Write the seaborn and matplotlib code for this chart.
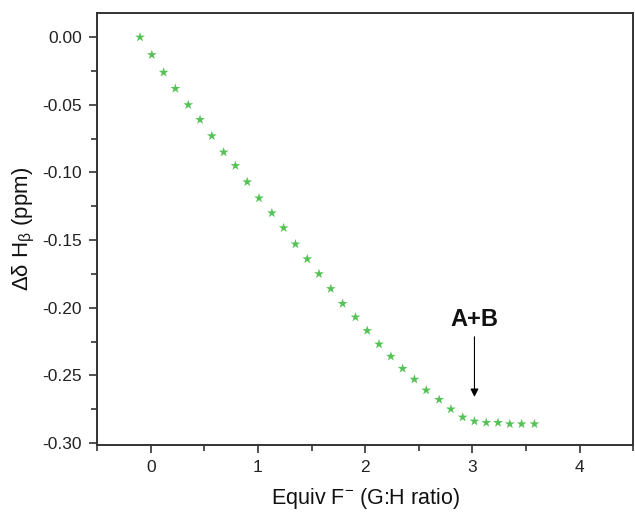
"""Fluoride titration: chemical shift change of H-beta vs equivalents."""

import matplotlib
matplotlib.use("Agg")
import matplotlib.pyplot as plt
import pandas as pd
import seaborn as sns
from matplotlib.ticker import MultipleLocator

equiv = [-0.10, 0.01, 0.12, 0.23, 0.35, 0.46, 0.57, 0.68, 0.79, 0.90,
         1.01, 1.13, 1.24, 1.35, 1.46, 1.57, 1.68, 1.79, 1.91, 2.02,
         2.13, 2.24, 2.35, 2.46, 2.57, 2.69, 2.80, 2.91, 3.02, 3.13,
         3.24, 3.35, 3.46, 3.58]
shift = [0.000, -0.013, -0.026, -0.038, -0.050, -0.061, -0.073, -0.085, -0.095, -0.107,
         -0.119, -0.130, -0.141, -0.153, -0.164, -0.175, -0.186, -0.197, -0.207, -0.217,
         -0.227, -0.236, -0.245, -0.253, -0.261, -0.268, -0.275, -0.281, -0.284, -0.285,
         -0.285, -0.286, -0.286, -0.286]

df = pd.DataFrame({"equiv": equiv, "shift": shift})

sns.set_style("ticks")
plt.rcParams["font.family"] = ["Liberation Sans", "DejaVu Sans"]
plt.rcParams["mathtext.fontset"] = "custom"
plt.rcParams["mathtext.rm"] = "Liberation Sans"
plt.rcParams["text.color"] = "#111111"
plt.rcParams["axes.labelcolor"] = "#111111"
plt.rcParams["xtick.color"] = "#222222"
plt.rcParams["ytick.color"] = "#222222"

fig = plt.figure(figsize=(6.35, 5.15), dpi=100)
ax = fig.add_axes([0.153, 0.136, 0.844, 0.839])

sns.scatterplot(data=df, x="equiv", y="shift", marker="*", s=55,
                color="#55c255", edgecolor="none", ax=ax)

ax.set_xlim(-0.5, 4.5)
ax.set_ylim(-0.3015, 0.018)
ax.xaxis.set_major_locator(MultipleLocator(1))
ax.xaxis.set_minor_locator(MultipleLocator(0.5))
ax.yaxis.set_major_locator(MultipleLocator(0.05))
ax.yaxis.set_minor_locator(MultipleLocator(0.025))
ax.yaxis.set_major_formatter(plt.FormatStrFormatter("%.2f"))

ax.tick_params(which="major", length=6, width=1.2, labelsize=12.5, color="#333333", pad=5)
ax.tick_params(which="minor", length=4, width=1.2, color="#333333")
for side in ["left", "bottom", "top", "right"]:
    ax.spines[side].set_visible(True)
    ax.spines[side].set_linewidth(1.4)
    ax.spines[side].set_color("#333333")

ax.set_xlabel(r"Equiv F$^{\mathregular{-}}$ (G:H ratio)", fontsize=15.5, labelpad=8)
ax.set_ylabel("\u0394\u03b4 H$_{\\mathregular{\u03b2}}$ (ppm)", fontsize=16)
ax.yaxis.set_label_coords(-0.112, 0.5)

ax.annotate("A+B", xy=(3.02, -0.266), xytext=(3.02, -0.2085),
            ha="center", va="center", fontsize=17, fontweight="bold",
            arrowprops=dict(arrowstyle="-|>", color="black", lw=0.8,
                            mutation_scale=12, shrinkA=2, shrinkB=0))

fig.savefig("out.png", dpi=100)
